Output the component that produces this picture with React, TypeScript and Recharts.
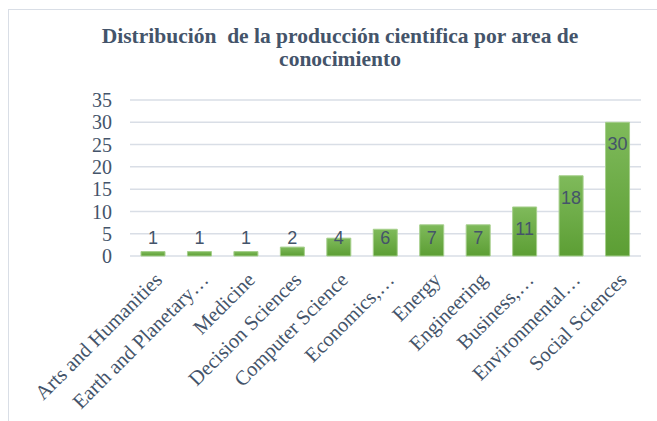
import React from 'react';
import { BarChart, Bar, XAxis, YAxis, CartesianGrid, LabelList } from 'recharts';

const categories = [
  'Arts and Humanities',
  'Earth and Planetary…',
  'Medicine',
  'Decision Sciences',
  'Computer Science',
  'Economics,…',
  'Energy',
  'Engineering',
  'Business,…',
  'Environmental…',
  'Social Sciences',
];
const values = [1, 1, 1, 2, 4, 6, 7, 7, 11, 18, 30];
const yTicks = [0, 5, 10, 15, 20, 25, 30, 35];
const titleLines = ['Distribución  de la producción cientifica por area de', 'conocimiento'];

const data = categories.map((name, i) => ({ name, value: values[i] }));

const TEXT = '#44546A';
const SERIF = '"Liberation Serif", "Times New Roman", serif';

const XTick = (props: any) => {
  const { x, y, payload } = props;
  const ax = x + 5;
  const ay = y + 12;
  return (
    <text
      x={ax}
      y={ay}
      dy="0.35em"
      textAnchor="end"
      transform={`rotate(-45, ${ax}, ${ay})`}
      fill={TEXT}
      fontFamily={SERIF}
      fontSize={20.5}
    >
      {payload.value}
    </text>
  );
};

const ValueLabel = (props: any) => {
  const { x, y, width, height, value } = props;
  const bottom = y + height;
  const cy = Math.min(y + 21.5, bottom - 18);
  return (
    <text
      x={x + width / 2}
      y={cy}
      dy="0.35em"
      textAnchor="middle"
      fill={TEXT}
      fontFamily='"Liberation Sans", Arial, sans-serif'
      fontSize={18}
    >
      {value}
    </text>
  );
};

export default function App() {
  return (
    <div style={{ position: 'absolute', left: 0, top: 0, width: 657, height: 421, background: '#fff', overflow: 'hidden' }}>
      <div
        style={{
          position: 'absolute',
          left: 8,
          top: 9,
          width: 700,
          height: 500,
          borderLeft: '1.5px solid #D9DEE6',
          borderTop: '1.5px solid #D9DEE6',
        }}
      />
      <div
        style={{
          position: 'absolute',
          left: 0,
          top: 25,
          width: 680,
          textAlign: 'center',
          fontFamily: SERIF,
          fontWeight: 'bold',
          fontSize: 21.5,
          lineHeight: '23px',
          color: TEXT,
          whiteSpace: 'pre',
        }}
      >
        {titleLines.map((l, i) => (
          <div key={i}>{l}</div>
        ))}
      </div>
      <div style={{ position: 'absolute', left: 0, top: 0 }}>
        <BarChart
          width={657}
          height={421}
          data={data}
          margin={{ top: 100, right: 16, bottom: 0, left: 0 }}
          barSize={24}
        >
          <defs>
            <linearGradient id="barGrad" x1="0" y1="0" x2="0" y2="1">
              <stop offset="0%" stopColor="#7FBA5B" />
              <stop offset="100%" stopColor="#5C9E34" />
            </linearGradient>
          </defs>
          <CartesianGrid vertical={false} stroke="#D9DEE6" strokeWidth={1.5} />
          <XAxis
            dataKey="name"
            axisLine={false}
            tickLine={false}
            interval={0}
            tick={<XTick />}
            height={165}
          />
          <YAxis
            domain={[0, 35]}
            ticks={yTicks}
            interval={0}
            axisLine={false}
            tickLine={false}
            tickSize={0}
            tickMargin={18}
            width={130}
            tick={{ fill: TEXT, fontFamily: SERIF, fontSize: 20 }}
          />
          <Bar dataKey="value" fill="url(#barGrad)" stroke="#A6CF8C" strokeWidth={1} isAnimationActive={false}>
            <LabelList dataKey="value" content={<ValueLabel />} />
          </Bar>
        </BarChart>
      </div>
    </div>
  );
}
